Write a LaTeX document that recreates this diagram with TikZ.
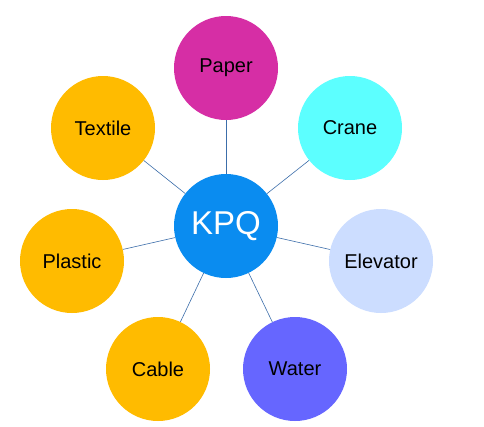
\documentclass[tikz,border=0pt]{standalone}
\usepackage{fontspec}
\setmainfont{Liberation Sans}
\definecolor{hub}{RGB}{10,140,240}
\definecolor{paperc}{RGB}{214,46,165}
\definecolor{cranec}{RGB}{92,255,255}
\definecolor{elevc}{RGB}{204,221,255}
\definecolor{waterc}{RGB}{102,102,255}
\definecolor{orangec}{RGB}{255,187,0}
\definecolor{linkc}{RGB}{60,110,170}
\begin{document}
\begin{tikzpicture}[x=1pt,y=-1pt,
  leaf/.style={circle,minimum size=104pt,inner sep=0pt,font=\fontsize{20}{24}\selectfont,text=black},
  hubnode/.style={circle,minimum size=104pt,inner sep=0pt,fill=hub,font=\fontsize{33}{38}\selectfont,text=white},
  link/.style={draw=linkc,line width=0.6pt}]
\useasboundingbox (0,0) rectangle (484,426);
\fill[white] (0,0) rectangle (484,426);
\node[hubnode] (kpq) at (226,226) {KPQ};
\node[leaf,fill=paperc] (paper) at (226,68) {Paper};
\node[leaf,fill=cranec] (crane) at (350,128) {Crane};
\node[leaf,fill=orangec] (textile) at (103,128) {Textile};
\node[leaf,fill=elevc] (elevator) at (381,261) {Elevator};
\node[leaf,fill=orangec] (plastic) at (72,261) {Plastic};
\node[leaf,fill=orangec] (cable) at (158,369) {Cable};
\node[leaf,fill=waterc] (water) at (295,369) {Water};
\foreach \n in {paper,crane,textile,elevator,plastic,cable,water}
  \draw[link] (kpq) -- (\n);
\end{tikzpicture}
\end{document}
